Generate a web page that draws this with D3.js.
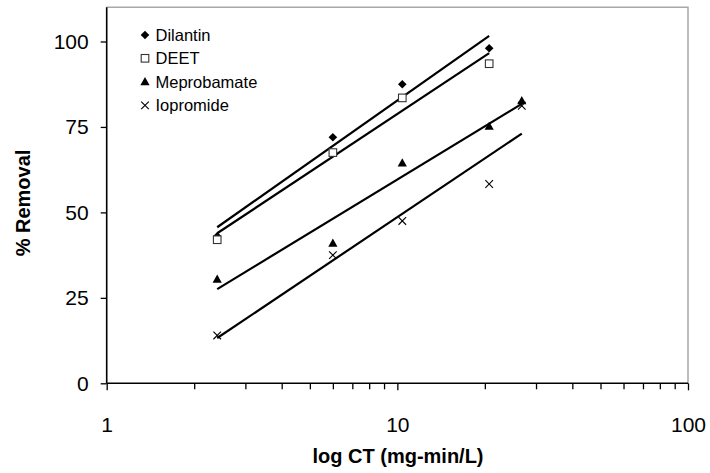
<!DOCTYPE html>
<html><head><meta charset="utf-8">
<script src="https://cdn.jsdelivr.net/npm/d3@7"></script>
<style>body{margin:0;background:#fff}svg{display:block;font-family:"Liberation Sans",Arial,sans-serif}</style>
</head><body><svg id="c" width="710" height="473"></svg>
<script>
// Data
const seriesNames = ["Dilantin", "DEET", "Meprobamate", "Iopromide"];
const ctDilantin = [2.4, 6.0, 10.4, 20.7];
const dilantin = [43.0, 72.0, 87.5, 98.0];
const ctDEET = [2.4, 6.0, 10.4, 20.7];
const deet = [42.0, 67.5, 83.5, 93.5];
const ctMeprobamate = [2.4, 6.0, 10.4, 20.7, 26.8];
const meprobamate = [30.5, 41.0, 64.5, 75.2, 82.7];
const ctIopromide = [2.4, 6.0, 10.4, 20.7, 26.8];
const iopromide = [14.0, 37.5, 47.5, 58.3, 81.2];
const xTicks = [1, 10, 100];
const xMinorTicks = [2,3,4,5,6,7,8,9,20,30,40,50,60,70,80,90];
const yTicks = [0, 25, 50, 75, 100];

const series = [
  {name: seriesNames[0], xs: ctDilantin, ys: dilantin, shape: "diamond"},
  {name: seriesNames[1], xs: ctDEET, ys: deet, shape: "square"},
  {name: seriesNames[2], xs: ctMeprobamate, ys: meprobamate, shape: "triangle"},
  {name: seriesNames[3], xs: ctIopromide, ys: iopromide, shape: "times"}
];

const svg = d3.select("#c");
const L = 106.7, R = 688, T = 7.3, B = 383.3;
const x = d3.scaleLog().domain([1, 100]).range([L, R]);
const y = d3.scaleLinear().domain([0, 110]).range([B, T]);

// plot border (top/right grey)
svg.append("path").attr("d", `M${L},${T}H${R}V${B}`).attr("fill","none").attr("stroke","#a8a8a8").attr("stroke-width",1.5);

// trendlines: least squares y = a + b*log10(x)
function fit(xs, ys) {
  const lx = xs.map(v => Math.log10(v));
  const mx = d3.mean(lx), my = d3.mean(ys);
  let sxy = 0, sxx = 0;
  lx.forEach((v, i) => { sxy += (v - mx) * (ys[i] - my); sxx += (v - mx) * (v - mx); });
  const b = sxy / sxx, a = my - b * mx;
  return v => a + b * Math.log10(v);
}
series.forEach(s => {
  const f = fit(s.xs, s.ys);
  const x0 = d3.min(s.xs), x1 = d3.max(s.xs);
  svg.append("line")
    .attr("x1", x(x0)).attr("y1", y(f(x0)))
    .attr("x2", x(x1)).attr("y2", y(f(x1)))
    .attr("stroke", "#000").attr("stroke-width", 2.2);
});

function drawMarker(g, shape, cx, cy) {
  const s = 4.3;
  if (shape === "diamond") {
    g.append("path").attr("d", `M${cx},${cy-s}L${cx+s},${cy}L${cx},${cy+s}L${cx-s},${cy}Z`).attr("fill","#000");
  } else if (shape === "square") {
    g.append("rect").attr("x", cx-3.8).attr("y", cy-3.8).attr("width", 7.6).attr("height", 7.6)
      .attr("fill","#fff").attr("stroke","#333").attr("stroke-width",1.1);
  } else if (shape === "triangle") {
    g.append("path").attr("d", `M${cx},${cy-4.6}L${cx+4.6},${cy+3.6}L${cx-4.6},${cy+3.6}Z`).attr("fill","#000");
  } else {
    const t = 3.8;
    g.append("path").attr("d", `M${cx-t},${cy-t}L${cx+t},${cy+t}M${cx-t},${cy+t}L${cx+t},${cy-t}`)
      .attr("stroke","#000").attr("stroke-width",1.1).attr("fill","none");
  }
}

const pts = svg.append("g");
series.forEach(s => {
  s.xs.forEach((v, i) => drawMarker(pts, s.shape, x(v), y(s.ys[i])));
});

// axes
const xAxis = svg.append("g").attr("transform", `translate(0,${B})`)
  .call(d3.axisBottom(x).tickValues(xTicks).tickFormat(d3.format("d")).tickSize(7).tickPadding(27));
const xMinor = svg.append("g").attr("transform", `translate(0,${B})`)
  .call(d3.axisBottom(x).tickValues(xMinorTicks).tickFormat("").tickSize(6));
xMinor.select(".domain").remove();
const yAxis = svg.append("g").attr("transform", `translate(${L},0)`)
  .call(d3.axisLeft(y).tickValues(yTicks).tickSize(6).tickPadding(12));
[xAxis, xMinor, yAxis].forEach(g => {
  g.selectAll("line").attr("stroke","#000").attr("stroke-width",1.3);
  g.selectAll(".domain").attr("stroke","#000").attr("stroke-width",1.6);
  g.selectAll("text").attr("font-size", 21).attr("fill","#000").attr("font-family","Liberation Sans, Arial, sans-serif");
});
yAxis.select(".domain").attr("d", `M0,${T}V${B}`);
xAxis.select(".domain").attr("d", `M${L},0H${R}`);

// axis titles
svg.append("text").attr("x", 398).attr("y", 463).attr("text-anchor","middle")
  .attr("font-size", 20).attr("font-weight","bold").text("log CT (mg-min/L)");
svg.append("text").attr("transform", "translate(30,203) rotate(-90)").attr("text-anchor","middle")
  .attr("font-size", 20).attr("font-weight","bold").text("% Removal");

// legend
const legY = [35, 58.3, 81.7, 105.4];
const leg = svg.append("g");
series.forEach((s, i) => {
  drawMarker(leg, s.shape, 145, legY[i]);
  leg.append("text").attr("x", 155.5).attr("y", legY[i]).attr("dy","0.36em")
    .attr("font-size", 16.5).text(s.name);
});
</script></body></html>
